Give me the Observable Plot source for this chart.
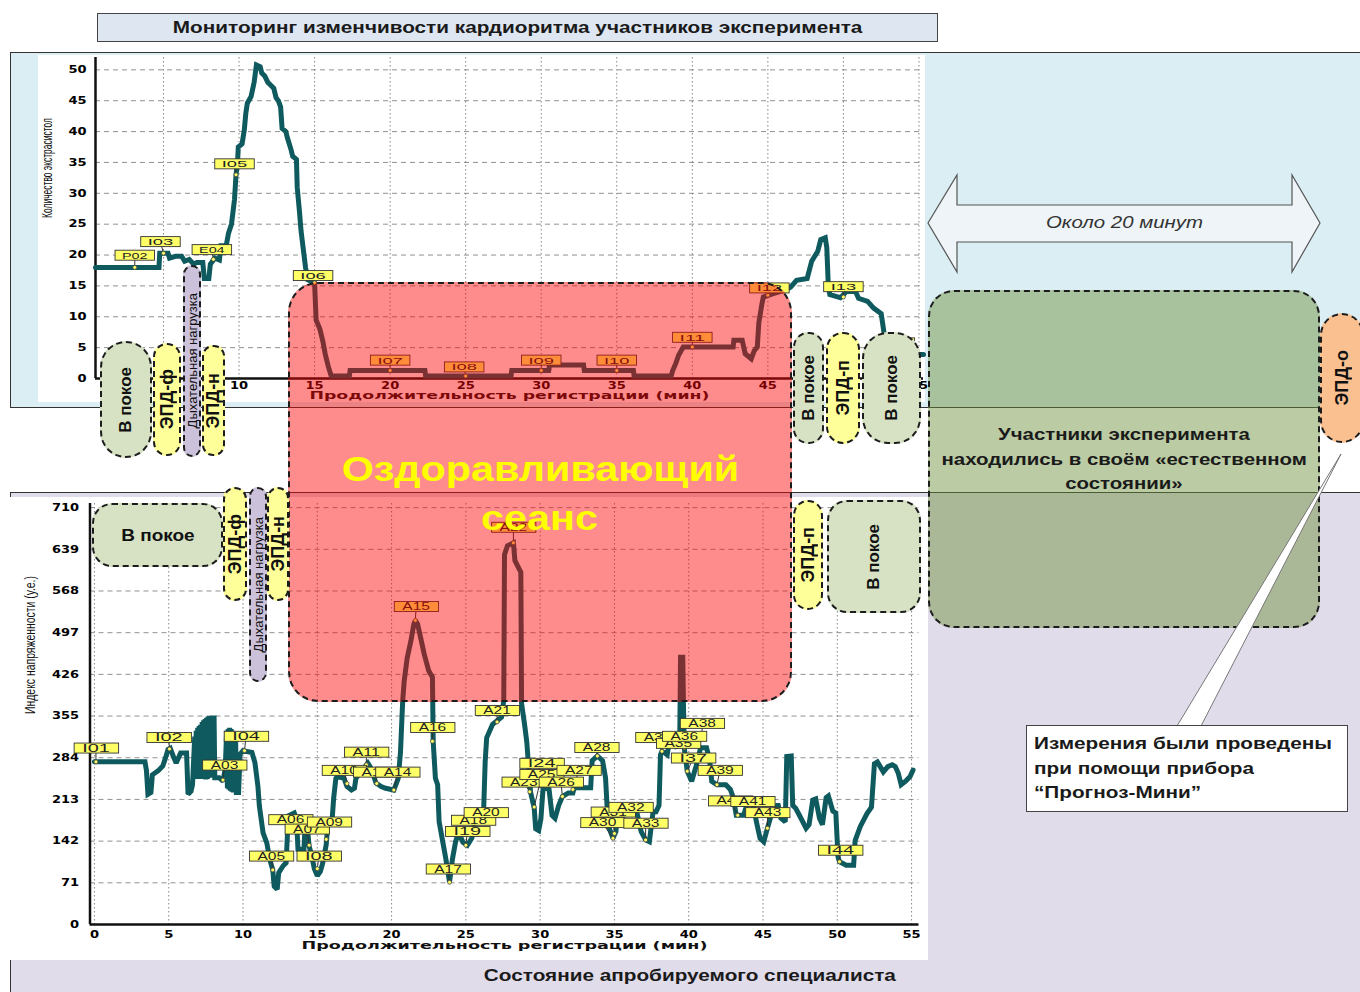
<!DOCTYPE html>
<html><head><meta charset="utf-8">
<script src="https://cdn.jsdelivr.net/npm/d3@7"></script>
<script src="https://cdn.jsdelivr.net/npm/@observablehq/plot@0.6"></script>
<style>
html,body{margin:0;padding:0;background:#fff}
#root{position:relative;width:1360px;height:992px;overflow:hidden;font-family:"Liberation Sans",Arial,sans-serif}
.abs{position:absolute;box-sizing:border-box}
.pill{display:flex;align-items:center;justify-content:center;border:2px dashed #1c1c1c;color:#111;font-weight:bold}
.vt{writing-mode:vertical-rl;transform:rotate(180deg);white-space:nowrap}
.st{display:inline-block;transform:scaleX(1.2);white-space:nowrap}
</style></head><body>
<div id="root"></div>
<script>
// ---------------- DATA ----------------
const xTicks = [0,5,10,15,20,25,30,35,40,45,50,55];
const topYTicks = [0,5,10,15,20,25,30,35,40,45,50];
const bottomYTicks = [0,71,142,213,284,355,426,497,568,639,710];

// extrasystole count vs minutes (top chart)
const topSeries = [[0.5,18],[4.7,18],[4.75,20.3],[5.3,20.3],[5.4,19.5],[5.8,19.8],[6.2,19.8],[6.4,19],[6.7,19.3],[7.0,18.5],[7.2,18.8],[7.6,18.8],[7.7,16.2],[8.0,16.2],[8.1,18.5],[8.4,19.5],[8.7,19.2],[8.8,21.5],[9.15,21.5],[9.3,23.5],[9.5,25],[9.6,27],[9.7,29],[9.75,31],[9.8,33],[9.9,35],[9.95,37.5],[10.2,38],[10.35,40.3],[10.45,43],[10.55,44.6],[10.8,45.7],[11.0,48],[11.15,50.8],[11.4,50.5],[11.5,49.5],[11.7,49],[11.9,48],[12.1,47.5],[12.3,47],[12.45,45.5],[12.6,45],[12.75,44],[12.85,40.5],[13.1,40],[13.2,39],[13.45,37],[13.55,36],[13.8,35.5],[13.85,31],[14.0,27],[14.1,24],[14.2,22],[14.3,20],[14.4,18],[14.55,16],[15.0,15.5],[15.1,9.5],[15.35,8],[15.55,6],[15.7,4],[15.9,2],[16.1,0.4],[17.3,0.4],[17.35,1.3],[22.3,1.3],[22.35,0.4],[28.0,0.4],[28.05,1.3],[30.5,1.3],[30.55,2.2],[32.8,2.2],[32.85,1.3],[36.1,1.3],[36.15,0.4],[38.6,0.4],[38.7,1.3],[38.9,2.4],[39.1,3.8],[39.4,5.1],[42.7,5.1],[42.75,6.2],[43.3,6.2],[43.5,4],[43.9,3.2],[44.1,4.5],[44.3,5.1],[44.4,9],[44.6,12],[44.7,13.2],[45.3,13.7],[46.1,14.3],[46.5,14.8],[46.9,15.9],[47.6,16.2],[47.9,19],[48.3,20.6],[48.5,22.5],[48.8,22.8],[48.9,21.2],[49.0,15],[49.1,13.6],[49.8,13.1],[50.2,14.1],[50.8,14.1],[51.0,13],[51.6,12.5],[52.0,11.4],[52.5,10.5],[52.7,7.2],[53.0,5],[53.5,3.9],[55.3,3.9]];

// stress index vs minutes (bottom chart)
const stressSeries = [[0,277],[3.4,277],[3.5,262],[3.6,222],[3.8,225],[3.9,255],[4.3,262],[4.6,270],[4.8,285],[4.95,298],[5.1,300],[5.3,287],[5.5,275],[5.8,292],[6.2,292],[6.3,222],[6.5,227],[6.6,238],[6.75,320],[6.8,250],[6.85,330],[6.9,248],[6.95,335],[7.0,250],[7.05,338],[7.1,248],[7.15,340],[7.2,250],[7.25,345],[7.3,248],[7.35,348],[7.4,250],[7.45,350],[7.5,247],[7.55,352],[7.6,248],[7.65,354],[7.7,250],[7.75,355],[7.8,250],[7.85,355],[7.9,252],[7.95,356],[8.0,250],[8.05,356],[8.1,250],[8.4,250],[8.65,244],[8.8,265],[8.9,330],[8.95,232],[9.0,333],[9.05,230],[9.1,335],[9.15,228],[9.2,333],[9.25,226],[9.3,330],[9.35,225],[9.4,328],[9.45,225],[9.5,320],[9.55,225],[9.7,225],[9.8,290],[10.0,296],[10.6,293],[10.8,276],[11.0,236],[11.1,202],[11.35,156],[11.6,139],[11.8,111],[12.0,93],[12.1,65],[12.3,60],[12.4,88],[12.7,100],[12.9,105],[13.05,185],[13.45,190],[13.6,179],[13.7,128],[14.1,128],[14.2,179],[14.3,175],[14.45,133],[14.6,120],[14.8,95],[15.0,83],[15.2,90],[15.35,103],[15.6,136],[15.7,168],[16.0,179],[16.1,215],[16.25,249],[16.4,252],[16.8,249],[17.0,235],[17.3,229],[17.5,232],[17.6,249],[18.0,262],[18.4,275],[18.6,267],[18.95,241],[19.3,235],[19.6,232],[20.15,229],[20.45,249],[20.6,294],[20.7,353],[20.75,382],[20.85,415],[21.05,454],[21.3,483],[21.5,512],[21.6,518],[21.75,512],[21.95,489],[22.2,460],[22.5,432],[22.75,421],[22.8,312],[22.95,249],[23.1,238],[23.2,175],[23.45,140],[23.65,112],[23.9,72],[24.1,112],[24.3,140],[24.5,158],[24.8,140],[25.1,135],[25.4,147],[25.6,175],[26.2,198],[26.3,278],[26.4,318],[26.8,341],[27.1,347],[27.4,353],[27.55,382],[27.6,630],[27.8,645],[28.2,650],[28.3,620],[28.6,605],[28.7,600],[28.75,376],[28.95,341],[29.1,311],[29.2,277],[29.35,226],[29.6,198],[29.7,163],[29.9,160],[30.05,180],[30.2,233],[30.6,230],[30.8,186],[31.0,181],[31.25,203],[31.5,218],[31.9,224],[32.2,224],[32.3,233],[33.4,233],[33.5,279],[33.85,287],[34.2,279],[34.4,250],[34.5,204],[34.65,164],[34.9,147],[35.1,158],[35.2,192],[36.5,192],[36.8,158],[37.1,144],[37.35,141],[37.6,192],[37.8,192],[38.0,203],[38.1,289],[38.2,295],[38.55,289],[38.7,312],[39.0,306],[39.2,301],[39.4,324],[39.45,455],[39.6,455],[39.65,369],[39.7,301],[39.9,261],[40.2,244],[40.5,270],[40.8,301],[41.2,301],[41.4,281],[41.55,244],[41.9,238],[42.5,238],[42.8,230],[43.0,216],[43.2,186],[43.7,186],[43.9,203],[44.1,216],[44.3,206],[44.6,170],[44.8,147],[45.05,141],[45.3,164],[45.55,186],[45.8,187],[46.0,206],[46.2,181],[46.5,175],[46.6,286],[46.9,287],[47.0,203],[47.2,198],[47.45,186],[47.9,164],[48.1,170],[48.35,212],[48.55,214],[48.8,181],[49.0,170],[49.25,216],[49.4,219],[49.7,193],[49.9,190],[50.05,115],[50.15,107],[50.6,101],[51.1,101],[51.2,143],[51.55,167],[52.0,189],[52.3,200],[52.5,274],[52.7,277],[53.1,260],[53.4,269],[53.7,272],[53.9,269],[54.1,258],[54.3,238],[54.6,244],[54.9,252],[55.1,263]];

// event tags: [name, marker minute, marker value, tag minute, tag value]
const topTags = [["P02",3.1,18,3.1,19.9],["I03",5.0,20.3,4.8,22.1],["E04",8.3,19.3,8.2,20.8],["I05",9.8,33,9.7,34.7],["I06",15.0,15.5,14.9,16.6],["I07",20,1.3,20,2.9],["I08",25,0.4,24.9,1.8],["I09",30,1.3,30,2.9],["I10",35,1.3,35,2.9],["I11",40,5.1,40,6.6],["I12",45,13.5,45.1,14.6],["I13",50,13.2,50,14.8],["E14",53.6,3.9,53.4,5.7]];
const bottomTags = [["I01",0.1,277,0.1,300],["I02",5.05,299,5.0,318],["A03",8.65,246,8.75,271],["I04",10.1,296,10.2,320],["A05",12.0,93,11.9,116],["A06",13.3,178,13.2,178],["A07",14.45,135,14.3,162],["I08",15.0,95,15.1,116],["A09",15.6,145,15.8,174],["A10",17.0,240,16.8,262],["A12",19.0,240,18.9,259],["A11",18.3,272,18.3,293],["A14",20.15,229,20.4,259],["A15",21.6,518,21.65,541],["A16",22.75,312,22.75,335],["A17",23.9,72,23.8,94],["A18",25.6,172,25.5,177],["I19",25.0,135,25.1,158],["A20",26.0,183,26.35,190],["A21",27.1,345,27.1,364],["A22",28.2,650,28.2,676],["A23",29.3,226,28.9,242],["A25",29.6,200,30.1,255],["I24",29.5,245,30.1,274],["A26",31.5,218,31.4,242],["A27",32.2,230,32.6,262],["A28",33.85,287,33.8,301],["A30",34.9,147,34.2,173],["A31",35.0,155,34.9,191],["A32",36.2,192,36.1,199],["A33",37.1,144,37.1,172],["A34",38.2,295,37.9,318],["A35",39.0,306,39.3,308],["A36",39.7,301,39.7,320],["I37",39.9,261,40.3,283],["A38",40.9,320,40.9,342],["A39",41.9,238,42.1,262],["A40",43.3,186,42.8,210],["A41",44.0,210,44.3,209],["A43",45.3,164,45.3,190],["I44",50.15,107,50.2,126]];

const texts = {
  title: "Мониторинг изменчивости кардиоритма участников эксперимента",
  xTitle: "Продолжительность регистрации (мин)",
  yTop: "Количество экстрасистол",
  yBottom: "Индекс напряженности (у.е.)",
  caption: "Состояние апробируемого специалиста",
  session: ["Оздоравливающий", "сеанс"],
  natural: ["Участники эксперимента", "находились в своём «естественном", "состоянии»"],
  arrow: "Около 20 минут",
  callout: ["Измерения были проведены", "при помощи прибора", "“Прогноз-Мини”"]
};

// ---------------- STYLE ----------------
const LINE = "#0e5a5e";
const GREEN = "#d6e2c3", YEL = "#ffff99", PUR = "#ccc1da", ORANGE = "#fac090";
const NS = "http://www.w3.org/2000/svg";
const root = document.getElementById("root");
function el(tag, cls, style, html) {
  const d = document.createElement(tag);
  if (cls) d.className = cls;
  Object.assign(d.style, style);
  if (html != null) d.innerHTML = html;
  root.appendChild(d);
  return d;
}
const px = v => v + "px";
function box(x, y, w, h, style, cls, html) {
  return el("div", "abs " + (cls || ""), Object.assign({left: px(x), top: px(y), width: px(w), height: px(h)}, style), html);
}

// background panels
box(10, 52, 1360, 356, {background: "#daeef3", borderTop: "1.5px solid #333", borderLeft: "1.5px solid #333", borderBottom: "1.5px solid #333"});
box(10, 492, 1360, 510, {background: "#e0dcea", borderTop: "1.5px solid #333", borderLeft: "1.5px solid #333"});
// title
box(97, 13, 841, 29, {background: "#dde6f1", border: "1px solid #444", display: "flex", alignItems: "center", justifyContent: "center", fontWeight: "bold", fontSize: "17px", color: "#1a1a1a"}, "", `<span class="st" style="transform:scaleX(1.22)">${texts.title}</span>`);

// ---------------- CHARTS ----------------
const topRows = topSeries.map(([t, v]) => ({t, v}));
const stressRows = stressSeries.map(([t, v]) => ({t, v}));
const tagRows = a => a.map(([name, mt, mv, lt, lv]) => ({name, mt, mv, lt, lv}));

const commonAxis = {tickSize: 0, fontWeight: "bold", fontSize: 10, label: null};

const topPlot = Plot.plot({
  width: 887, height: 347,
  marginLeft: 57, marginRight: 2, marginTop: 2, marginBottom: 24,
  style: {background: "#fff", fontFamily: "DejaVu Sans, sans-serif", overflow: "visible"},
  x: {domain: [0.5, 55.3]},
  y: {domain: [0, 52]},
  marks: [
    Plot.gridX({ticks: xTicks.filter(d => d >= 5), stroke: "#666", strokeOpacity: 0.8, strokeDasharray: "1.5 2.5"}),
    Plot.gridY({ticks: topYTicks.filter(d => d > 0), stroke: "#777", strokeOpacity: 0.8, strokeDasharray: "5 4"}),
    Plot.axisX({...commonAxis, ticks: xTicks.filter(d => d >= 5), tickPadding: 3}),
    Plot.axisY({...commonAxis, ticks: topYTicks, tickPadding: 9}),
    Plot.ruleY([0], {stroke: "#111", strokeWidth: 2.5}),
    Plot.ruleX([0.5], {stroke: "#111", strokeWidth: 2.5}),
    Plot.line(topRows, {x: "t", y: "v", stroke: LINE, strokeWidth: 5, strokeLinejoin: "miter", strokeMiterlimit: 2}),
    Plot.link(tagRows(topTags), {x1: "lt", y1: "lv", x2: "mt", y2: "mv", stroke: "#333", strokeWidth: 1}),
    Plot.dot(tagRows(topTags), {x: "mt", y: "mv", r: 2, fill: "#ffff66", stroke: "#444", strokeWidth: 0.8}),
    Plot.text(tagRows(topTags), {x: "lt", y: "lv", text: "name", fontSize: 9.5, fill: "#222", fontFamily: "Liberation Sans"}),
    Plot.text([texts.xTitle], {text: d => d, frameAnchor: "bottom", dy: 20, fontWeight: "bold", fontSize: 10, fill: "#111"}),
    Plot.text([texts.yTop], {text: d => d, frameAnchor: "left", dx: -48, rotate: -90, fontSize: 14, fill: "#111", fontFamily: "Liberation Sans"})
  ]
});

const bottomPlot = Plot.plot({
  width: 918, height: 463,
  marginLeft: 79.5, marginRight: 9.5, marginTop: 6, marginBottom: 36,
  style: {background: "#fff", fontFamily: "DejaVu Sans, sans-serif", overflow: "visible"},
  x: {domain: [-0.3, 55.5]},
  y: {domain: [0, 717]},
  marks: [
    Plot.gridX({ticks: xTicks, stroke: "#666", strokeOpacity: 0.8, strokeDasharray: "1.5 2.5"}),
    Plot.gridY({ticks: bottomYTicks.filter(d => d > 0), stroke: "#777", strokeOpacity: 0.8, strokeDasharray: "5 4"}),
    Plot.axisX({...commonAxis, ticks: xTicks, tickPadding: 6}),
    Plot.axisY({...commonAxis, ticks: bottomYTicks, tickPadding: 11}),
    Plot.ruleY([0], {stroke: "#111", strokeWidth: 2.5}),
    Plot.ruleX([-0.3], {stroke: "#111", strokeWidth: 2.5}),
    Plot.line(stressRows, {x: "t", y: "v", stroke: LINE, strokeWidth: 5, strokeLinejoin: "miter", strokeMiterlimit: 2}),
    Plot.link(tagRows(bottomTags), {x1: "lt", y1: "lv", x2: "mt", y2: "mv", stroke: "#333", strokeWidth: 1}),
    Plot.dot(tagRows(bottomTags), {x: "mt", y: "mv", r: 2, fill: "#ffff66", stroke: "#444", strokeWidth: 0.8}),
    Plot.text(tagRows(bottomTags), {x: "lt", y: "lv", text: "name", fontSize: 10, fill: "#222", fontFamily: "Liberation Sans"}),
    Plot.text([texts.xTitle], {text: d => d, frameAnchor: "bottom", dy: 24, fontWeight: "bold", fontSize: 10, fill: "#111"}),
    Plot.text([texts.yBottom], {text: d => d, frameAnchor: "left", dx: -59.5, rotate: -90, fontSize: 14, fill: "#111", fontFamily: "Liberation Sans"})
  ]
});

const topHolder = box(38, 55, 887, 347, {});
topHolder.appendChild(topPlot);
const botHolder = box(10, 497, 918, 463, {});
botHolder.appendChild(bottomPlot);

function stretch(t, len) {
  t.setAttribute("textLength", (+len).toFixed(1));
  t.setAttribute("lengthAdjust", "spacingAndGlyphs");
}
function finish(svg, tagLen, padX, xLen, yLen, yTitle) {
  const tagRe = /^[A-ZА-Я]\d\d$/;
  svg.querySelectorAll("text").forEach(t => {
    const s = t.textContent.trim();
    if (/^\d+$/.test(s)) {
      t.setAttribute("font-weight", "bold");
      stretch(t, t.getComputedTextLength() * 1.3);
    } else if (s === texts.xTitle) {
      stretch(t, xLen);
    } else if (s === yTitle) {
      stretch(t, yLen);
    } else if (tagRe.test(s)) {
      stretch(t, s.length * tagLen);
      const b = t.getBBox();
      const r = document.createElementNS(NS, "rect");
      r.setAttribute("x", b.x - padX);
      r.setAttribute("y", b.y + 0.5);
      r.setAttribute("width", b.width + 2 * padX);
      r.setAttribute("height", Math.max(0, b.height - 1));
      r.setAttribute("fill", "#ffff66");
      r.setAttribute("stroke", "#333");
      r.setAttribute("stroke-width", "0.9");
      const tr = t.getAttribute("transform");
      if (tr) r.setAttribute("transform", tr);
      t.parentNode.insertBefore(r, t);
    }
  });
}
finish(topPlot, 8.5, 7, 400, 100, texts.yTop);
finish(bottomPlot, 9.2, 8, 406, 138, texts.yBottom);

// ---------------- ANNOTATIONS ----------------
// healing session overlay (semi-transparent red)
const ses = box(288, 282, 504, 420, {background: "rgba(255,0,0,0.45)", border: "2px dashed #1c1c1c", borderRadius: "30px"});
ses.innerHTML = `<div style="position:absolute;left:0;right:0;top:160px;text-align:center;color:#ffff00;font-weight:bold;font-size:35px;line-height:49px">
<span class="st" style="transform:scaleX(1.18)">${texts.session[0]}</span><br><span class="st" style="transform:scaleX(1.18)">${texts.session[1]}</span></div>`;

const pills = [
  {t: "В покое", x: 100, y: 341, w: 52, h: 117, fill: GREEN, r: 26, fs: 17},
  {t: "ЭПД-ф", x: 153, y: 343, w: 28, h: 113, fill: YEL, r: 14, fs: 18},
  {t: "Дыхательная нагрузка", x: 183, y: 265, w: 18, h: 192, fill: PUR, r: 9, fs: 13, fw: 400},
  {t: "ЭПД-н", x: 202, y: 345, w: 23, h: 111, fill: YEL, r: 11, fs: 18},
  {t: "В покое", x: 793, y: 332, w: 31, h: 112, fill: GREEN, r: 15, fs: 17},
  {t: "ЭПД-п", x: 826, y: 332, w: 34, h: 112, fill: YEL, r: 17, fs: 18},
  {t: "В покое", x: 862, y: 332, w: 59, h: 112, fill: GREEN, r: 26, fs: 17},
  {t: "В покое", x: 92, y: 503, w: 131, h: 64, fill: GREEN, r: 20, fs: 16.5, horiz: true},
  {t: "ЭПД-ф", x: 223, y: 487, w: 24, h: 114, fill: YEL, r: 12, fs: 18},
  {t: "Дыхательная нагрузка", x: 249, y: 487, w: 18, h: 195, fill: PUR, r: 9, fs: 13, fw: 400},
  {t: "ЭПД-н", x: 267, y: 487, w: 22, h: 114, fill: YEL, r: 11, fs: 18},
  {t: "ЭПД-п", x: 793, y: 500, w: 30, h: 110, fill: YEL, r: 15, fs: 18},
  {t: "В покое", x: 827, y: 500, w: 94, h: 113, fill: GREEN, r: 20, fs: 17},
  {t: "ЭПД-о", x: 1320, y: 313, w: 44, h: 130, fill: ORANGE, r: 22, fs: 18}
];
for (const p of pills) {
  const inner = p.horiz ? `<span class="st" style="transform:scaleX(1.15)">${p.t}</span>` : `<span class="vt">${p.t}</span>`;
  box(p.x, p.y, p.w, p.h, {background: p.fill, borderRadius: px(p.r), fontSize: px(p.fs), fontWeight: p.fw || 700}, "pill", inner);
}

// natural-state block
const nat = box(928, 290, 392, 338, {background: "rgba(105,140,50,0.45)", border: "2px dashed #1c1c1c", borderRadius: "26px"});
nat.innerHTML = `<div style="position:absolute;left:0;right:0;top:131px;text-align:center;font-weight:bold;font-size:17px;line-height:24.5px;color:#1a1a1a">${texts.natural.map(s => `<span class="st" style="transform:scaleX(1.2)">${s}</span>`).join("<br>")}</div>`;

// arrow and callout pointer
const ov = document.createElementNS(NS, "svg");
ov.setAttribute("width", 1360); ov.setAttribute("height", 992);
ov.setAttribute("class", "abs");
ov.style.left = "0px"; ov.style.top = "0px";
ov.innerHTML = `
<path d="M928,223 L957,175 L957,205 L1292,205 L1292,175 L1320,223 L1292,272 L1292,242 L957,242 L957,272 Z" fill="#eef4f7" stroke="#555" stroke-width="1.2"/>
<polygon points="1177,726 1341,454 1201,726" fill="#fff" stroke="#777" stroke-width="1"/>`;
root.appendChild(ov);
box(928, 208, 392, 30, {display: "flex", alignItems: "center", justifyContent: "center", fontStyle: "italic", fontSize: "17px", color: "#333"}, "", `<span class="st">${texts.arrow}</span>`);

// callout box
box(1026, 725, 322, 87, {background: "#fff", border: "1.5px solid #444", padding: "6px 0 0 7px", fontWeight: "bold", fontSize: "17px", lineHeight: "24.5px", color: "#1a1a1a"}, "",
  texts.callout.map(s => `<span class="st" style="transform:scaleX(1.22);transform-origin:left center">${s}</span>`).join("<br>"));

// bottom caption
box(300, 963, 780, 26, {display: "flex", alignItems: "center", justifyContent: "center", fontWeight: "bold", fontSize: "17px", color: "#1a1a1a"}, "", `<span class="st" style="transform:scaleX(1.22)">${texts.caption}</span>`);
</script>
</body></html>
